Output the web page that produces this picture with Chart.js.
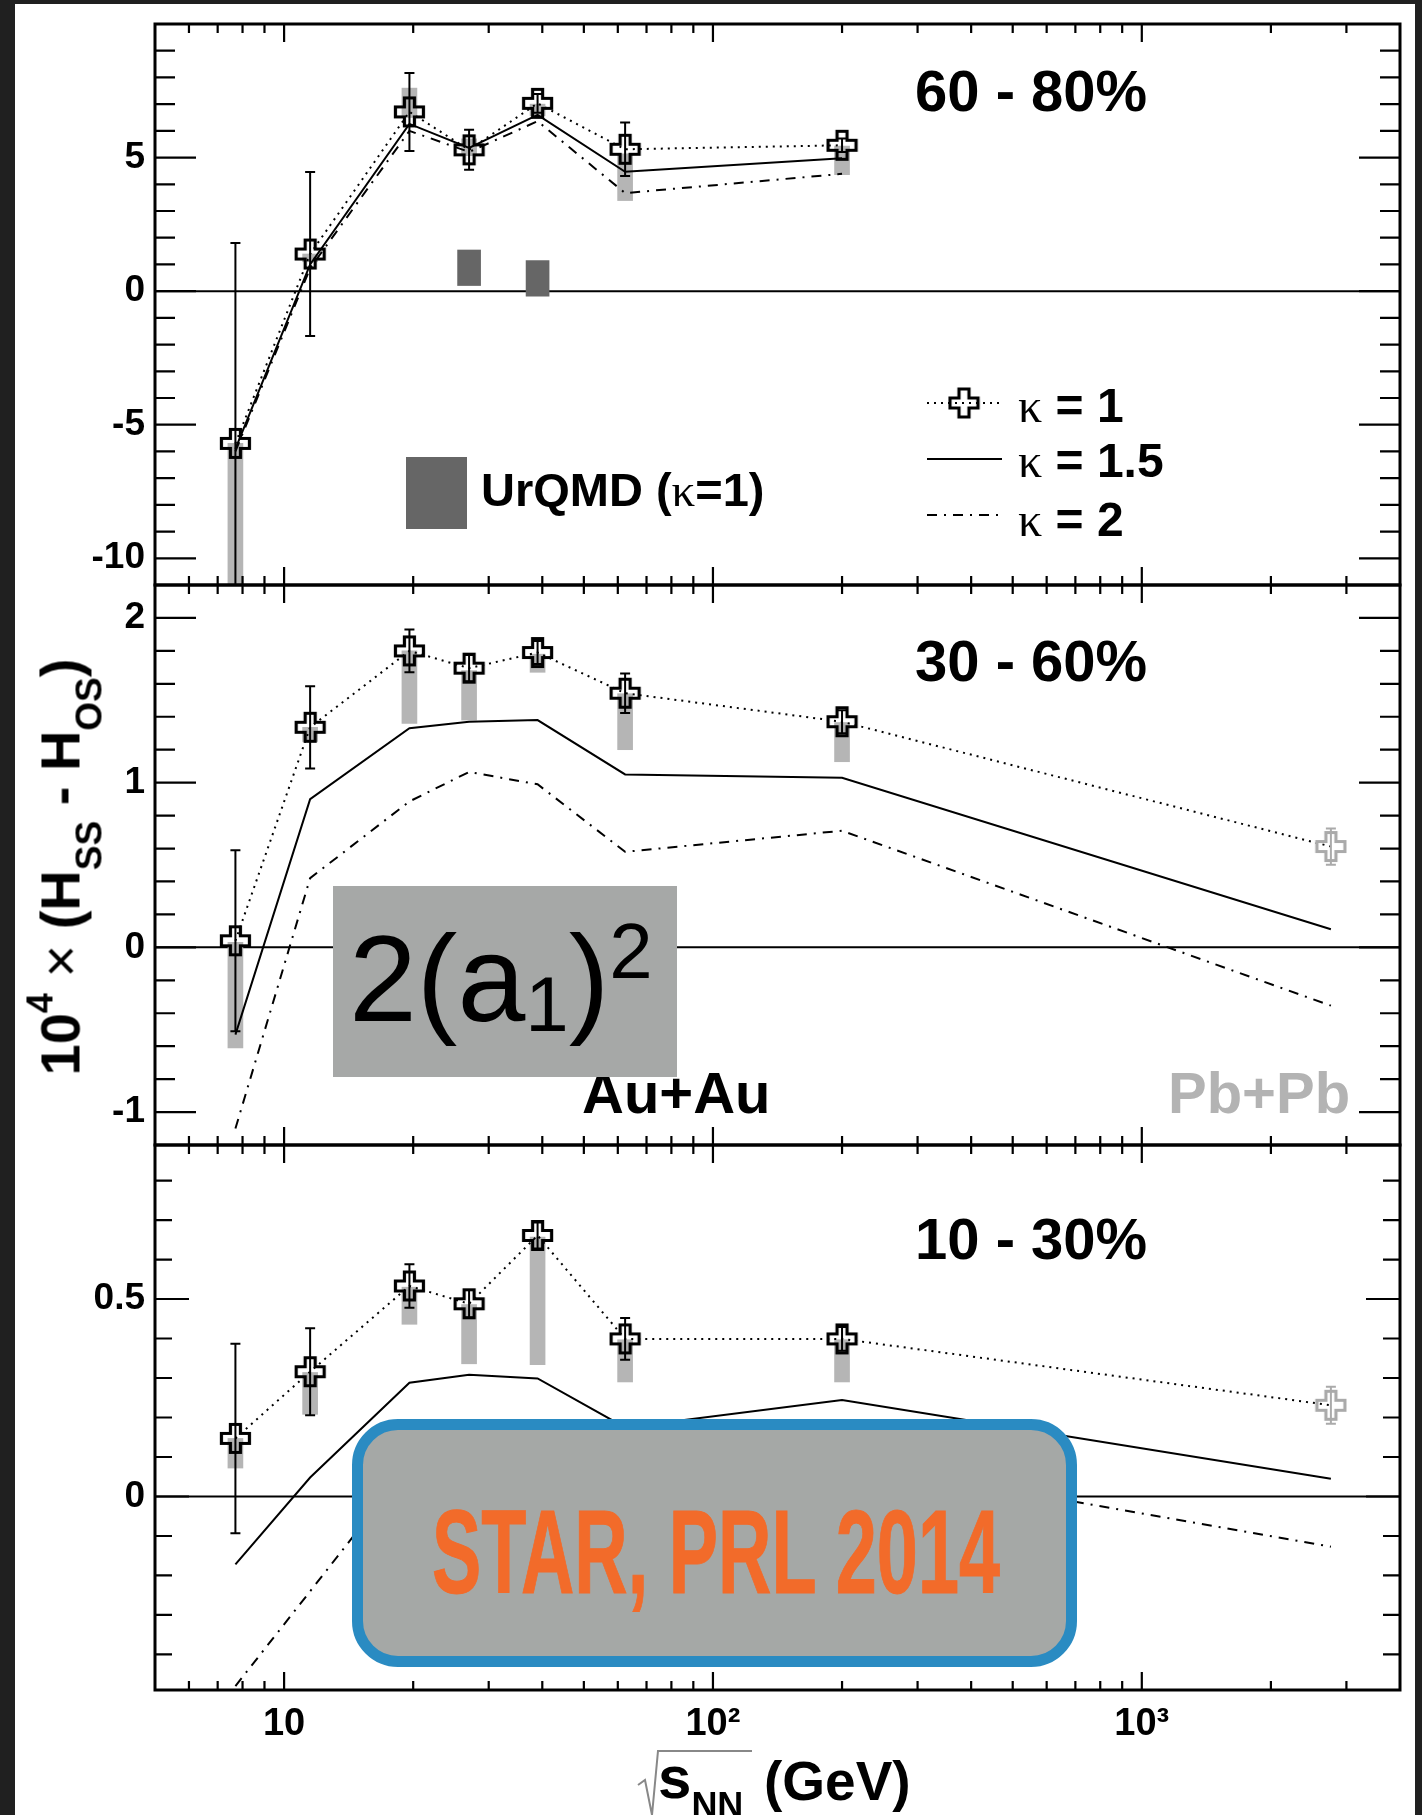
<!DOCTYPE html>
<html>
<head>
<meta charset="utf-8">
<title>H_SS - H_OS vs beam energy</title>
<script src="https://cdn.jsdelivr.net/npm/chart.js@4.4.1/dist/chart.umd.min.js"></script>
<style>
  html, body { margin: 0; padding: 0; }
  body { position: relative; width: 1422px; height: 1815px; overflow: hidden; background: #202020;
         font-family: "Liberation Sans", Arial, sans-serif; }
  #sheet { position: absolute; left: 15px; top: 4px; width: 1400px; height: 1811px; background: #fff; }
  canvas { position: absolute; left: 0; }
  .t { position: absolute; white-space: nowrap; line-height: 1; font-weight: bold; color: #000; }
  .k { font-family: "Liberation Serif", "DejaVu Serif", serif; font-weight: normal; }
  .ysub { font-size: 37px; position: relative; top: 22px; }
  #boxA1 { position: absolute; left: 333px; top: 886px; width: 344px; height: 191px; background: #a6a8a7; }
  #boxA1 .t { font-weight: normal; font-size: 122px; left: 16px; top: 32px; }
  #starBox { position: absolute; left: 352px; top: 1419px; width: 725px; height: 248px; box-sizing: border-box;
             border: 11px solid #2a8bc2; border-radius: 46px; background: #a5a8a6; }
  #starText { position: absolute; left: 432px; top: 1493px; font-family: "Liberation Sans Narrow", "Liberation Sans", sans-serif;
              font-weight: bold; font-size: 118px; line-height: 1; color: #f26b2a; white-space: nowrap;
              -webkit-text-stroke: 1px #f26b2a; transform-origin: left top; }
</style>
</head>
<body>
<div id="sheet"></div>

<canvas id="c6080" width="1422" height="641" style="top:-16px"></canvas>
<canvas id="c3060" width="1422" height="640" style="top:545px"></canvas>
<canvas id="c1030" width="1422" height="710" style="top:1105px"></canvas>
<canvas id="legendSamples" width="100" height="150" style="left:915px; top:385px"></canvas>

<!-- panel labels -->
<div class="t" style="left:915px; top:62px; font-size:58px">60 - 80%</div>
<div class="t" style="left:915px; top:632px; font-size:58px">30 - 60%</div>
<div class="t" style="left:915px; top:1210px; font-size:58px">10 - 30%</div>

<!-- legend -->
<div style="position:absolute; left:406px; top:457px; width:61px; height:72px; background:#666"></div>
<div class="t" style="left:481px; top:466px; font-size:47px">UrQMD (<span class="k">κ</span>=1)</div>
<div class="t" style="left:1018px; top:382px; font-size:48px"><span class="k">κ</span> = 1</div>
<div class="t" style="left:1018px; top:437px; font-size:48px"><span class="k">κ</span> = 1.5</div>
<div class="t" style="left:1018px; top:496px; font-size:48px"><span class="k">κ</span> = 2</div>

<div class="t" style="left:582px; top:1064px; font-size:58px">Au+Au</div>
<div class="t" style="left:1168px; top:1064px; font-size:58px; color:#b3b3b3">Pb+Pb</div>

<!-- axis titles -->
<div id="yTitle" class="t" style="font-size:56px">10<span style="font-size:36px; position:relative; top:-27px">4</span> <span style="font-weight:normal">×</span> (H<span class="ysub">SS</span> - H<span class="ysub">OS</span>)</div>
<svg style="position:absolute; left:630px; top:1740px" width="130" height="75">
  <polyline points="8,45 15,40 22,75 28,11 122,11" fill="none" stroke="#888" stroke-width="2"/>
</svg>
<div class="t" style="left:658px; top:1748px; font-size:60px">s<span style="font-size:36px; position:relative; top:20px">NN</span></div>
<div class="t" style="left:764px; top:1754px; font-size:55px">(GeV)</div>

<!-- slide overlays -->
<div id="boxA1"><div class="t">2(a<span style="font-size:78px; position:relative; top:10px">1</span>)<span style="font-size:78px; position:relative; top:-43px">2</span></div></div>
<div id="starBox"></div>
<div id="starText">STAR, PRL 2014</div>

<script>
Chart.defaults.font.family = "'Liberation Sans', Arial, sans-serif";
Chart.defaults.color = '#000';

// beam energies sqrt(s_NN) in GeV
const energies = [7.7, 11.5, 19.6, 27, 39, 62.4, 200, 2760];
const systems = ['Au+Au', 'Au+Au', 'Au+Au', 'Au+Au', 'Au+Au', 'Au+Au', 'Au+Au', 'Pb+Pb'];

// 60 - 80 %
const kappa1_6080 = [-5.7, 1.39, 6.71, 5.29, 7.03, 5.31, 5.46];
const stat_6080 = [7.5, 3.07, 1.46, 0.75, 0.35, 1.0, 0.25];
const systLow_6080 = [-12, 1.1, 6.5, 5.07, 6.57, 3.39, 4.36];
const systHigh_6080 = [-5.7, 1.39, 7.6, 5.7, 7.0, 5.14, 5.43];
const kappa15_6080 = [-5.9, 1.0, 6.26, 5.36, 6.6, 4.47, 4.97];
const kappa2_6080 = [-6.0, 0.86, 6.0, 5.21, 6.36, 3.67, 4.39];
const urqmdEnergies = [27, 39];
const urqmdLow_6080 = [0.21, -0.19];
const urqmdHigh_6080 = [1.54, 1.14];

// 30 - 60 %
const kappa1_3060 = [0.04, 1.336, 1.80, 1.695, 1.79, 1.543, 1.37, 0.612];
const stat_3060 = [0.55, 0.25, 0.13, 0.08, 0.07, 0.12, 0.07, 0.11];
const systLow_3060 = [-0.61, 1.25, 1.36, 1.38, 1.67, 1.20, 1.127, null];
const systHigh_3060 = [0.03, 1.336, 1.80, 1.68, 1.78, 1.54, 1.365, null];
const kappa15_3060 = [-0.53, 0.90, 1.33, 1.37, 1.38, 1.05, 1.03, 0.11];
const kappa2_3060 = [-1.10, 0.42, 0.886, 1.065, 0.99, 0.58, 0.708, -0.354];

// 10 - 30 %
const kappa1_1030 = [0.147, 0.316, 0.533, 0.488, 0.661, 0.399, 0.399, 0.231];
const stat_1030 = [0.24, 0.11, 0.055, 0.035, 0.033, 0.053, 0.03, 0.047];
const systLow_1030 = [0.072, 0.208, 0.436, 0.336, 0.334, 0.29, 0.29, null];
const systHigh_1030 = [0.147, 0.314, 0.53, 0.486, 0.657, 0.397, 0.397, null];
const kappa15_1030 = [-0.172, 0.048, 0.288, 0.308, 0.299, 0.175, 0.244, 0.045];
const kappa2_1030 = [-0.48, -0.24, 0.08, 0.11, 0.10, 0.0, 0.09, -0.127];

// axes
const xMin = 5, xMax = 4000;
const xTickValues = [10, 100, 1000];
const xTickLabels = ['10', '10²', '10³'];

const dotted = [2, 5];
const dashDot = [10, 7, 2, 7];

// open cross marker (ROOT style 28)
function crossMarker(color) {
    const c = document.createElement('canvas');
    c.width = 33; c.height = 33;
    const g = c.getContext('2d');
    const m = 16.5, h = 14, a = 5;
    g.beginPath();
    g.moveTo(m - a, m - h); g.lineTo(m + a, m - h); g.lineTo(m + a, m - a);
    g.lineTo(m + h, m - a); g.lineTo(m + h, m + a); g.lineTo(m + a, m + a);
    g.lineTo(m + a, m + h); g.lineTo(m - a, m + h); g.lineTo(m - a, m + a);
    g.lineTo(m - h, m + a); g.lineTo(m - h, m - a); g.lineTo(m - a, m - a);
    g.closePath();
    g.lineWidth = 3.2;
    g.strokeStyle = color;
    g.stroke();
    return c;
}
const blackCross = crossMarker('#000');
const grayCross = crossMarker('#aaa');

const panels = {};

// ticks inside the frame, frame, zero line and error bars
const rootFrame = {
    id: 'rootFrame',
    beforeDatasetsDraw(chart) {
        const { ctx, chartArea: a, scales: { y } } = chart;
        const y0 = y.getPixelForValue(0);
        ctx.save();
        ctx.strokeStyle = '#000';
        ctx.lineWidth = 2;
        ctx.beginPath();
        ctx.moveTo(a.left, y0);
        ctx.lineTo(a.right, y0);
        ctx.stroke();
        ctx.restore();
    },
    afterDatasetsDraw(chart) {
        const p = panels[chart.canvas.id];
        const { ctx, chartArea: a, scales: { x, y } } = chart;
        ctx.save();
        ctx.beginPath();
        ctx.rect(a.left, a.top, a.width, a.height);
        ctx.clip();
        ctx.lineWidth = 2;
        for (let i = 0; i < p.kappa1.length; i++) {
            const px = x.getPixelForValue(energies[i]);
            const top = y.getPixelForValue(p.kappa1[i] + p.stat[i]);
            const bot = y.getPixelForValue(p.kappa1[i] - p.stat[i]);
            ctx.strokeStyle = systems[i] == 'Pb+Pb' ? '#aaa' : '#000';
            ctx.beginPath();
            ctx.moveTo(px, top); ctx.lineTo(px, bot);
            ctx.moveTo(px - 5, top); ctx.lineTo(px + 5, top);
            ctx.moveTo(px - 5, bot); ctx.lineTo(px + 5, bot);
            ctx.stroke();
        }
        ctx.restore();
    },
    afterDraw(chart) {
        const p = panels[chart.canvas.id];
        const { ctx, chartArea: a, scales: { x, y } } = chart;
        ctx.save();
        ctx.strokeStyle = '#000';
        ctx.lineWidth = 2.2;
        ctx.beginPath();
        // x ticks: decades major, the rest minor
        for (let d = 1; d <= 1000; d *= 10) {
            for (let m = 1; m <= 9; m++) {
                const v = m * d;
                if (v <= xMin || v >= xMax) continue;
                const px = x.getPixelForValue(v);
                const len = m == 1 ? 18 : 9;
                ctx.moveTo(px, a.top); ctx.lineTo(px, a.top + len);
                ctx.moveTo(px, a.bottom); ctx.lineTo(px, a.bottom - len);
            }
        }
        // y ticks
        const k0 = Math.ceil(p.yMin / p.yMinor - 1e-6);
        const k1 = Math.floor(p.yMax / p.yMinor + 1e-6);
        for (let k = k0; k <= k1; k++) {
            const v = k * p.yMinor;
            const r = v / p.yMajor;
            const major = Math.abs(r - Math.round(r)) < 1e-6;
            const len = major ? p.tickLen[0] : p.tickLen[1];
            const py = y.getPixelForValue(v);
            ctx.moveTo(a.left, py); ctx.lineTo(a.left + len, py);
            ctx.moveTo(a.right, py); ctx.lineTo(a.right - len, py);
        }
        ctx.stroke();
        ctx.lineWidth = 3;
        ctx.strokeRect(a.left, a.top, a.width, a.height);
        ctx.restore();
    }
};

function makePanel(id, p) {
    panels[id] = p;
    const n = p.kappa1.length;
    const xs = energies.slice(0, n);
    const pts = arr => xs.map((e, i) => ({ x: e, y: arr[i] }));

    const datasets = [];
    const syst = [];
    for (let i = 0; i < n; i++) {
        if (p.systLow[i] != null) syst.push({ x: xs[i], y: [p.systLow[i], p.systHigh[i]] });
    }
    datasets.push({
        type: 'bar', label: 'syst', data: syst,
        backgroundColor: '#b5b5b5', borderWidth: 0, barThickness: 15, grouped: false, order: 3
    });
    if (p.urqmdLow) {
        datasets.push({
            type: 'bar', label: 'UrQMD (κ=1)',
            data: urqmdEnergies.map((e, i) => ({ x: e, y: [p.urqmdLow[i], p.urqmdHigh[i]] })),
            backgroundColor: '#666', borderWidth: 0, barThickness: 23, grouped: false, order: 3
        });
    }
    datasets.push({
        label: 'κ = 2', data: pts(p.kappa2), borderColor: '#000', borderWidth: 2,
        borderDash: dashDot, pointRadius: 0, order: 2
    });
    datasets.push({
        label: 'κ = 1.5', data: pts(p.kappa15), borderColor: '#000', borderWidth: 2,
        pointRadius: 0, order: 2
    });
    datasets.push({
        label: 'κ = 1', data: pts(p.kappa1), borderColor: '#000', borderWidth: 2,
        borderDash: dotted,
        pointStyle: xs.map((e, i) => systems[i] == 'Pb+Pb' ? grayCross : blackCross),
        pointRadius: 6, order: 1
    });

    new Chart(document.getElementById(id), {
        type: 'line',
        data: { datasets: datasets },
        options: {
            responsive: false,
            animation: false,
            devicePixelRatio: 1,
            layout: { padding: { left: 0, right: 22, top: 40, bottom: p.showX ? 0 : 40 } },
            plugins: { legend: { display: false }, tooltip: { enabled: false } },
            scales: {
                x: {
                    type: 'logarithmic', min: xMin, max: xMax, offset: false,
                    display: p.showX,
                    grid: { display: false, drawTicks: false },
                    border: { display: false },
                    afterBuildTicks: s => { s.ticks = xTickValues.map(v => ({ value: v })); },
                    afterFit: s => { if (p.showX) s.height = 125; },
                    ticks: {
                        autoSkip: false, maxRotation: 0, padding: 12, color: '#000',
                        font: { size: 38, weight: 'bold' },
                        callback: v => xTickLabels[xTickValues.indexOf(v)]
                    }
                },
                y: {
                    type: 'linear', min: p.yMin, max: p.yMax,
                    grid: { display: false, drawTicks: false },
                    border: { display: false },
                    afterBuildTicks: s => { s.ticks = p.yLabels.map(v => ({ value: v })); },
                    afterFit: s => { s.width = 155; },
                    ticks: {
                        padding: 10, color: '#000',
                        font: { size: 37, weight: 'bold' },
                        callback: v => String(v)
                    }
                }
            }
        },
        plugins: [rootFrame]
    });
}

makePanel('c6080', {
    kappa1: kappa1_6080, stat: stat_6080, systLow: systLow_6080, systHigh: systHigh_6080,
    kappa15: kappa15_6080, kappa2: kappa2_6080, urqmdLow: urqmdLow_6080, urqmdHigh: urqmdHigh_6080,
    yMin: -11, yMax: 10, yMajor: 5, yMinor: 1, yLabels: [-10, -5, 0, 5], tickLen: [41, 20], showX: false
});
makePanel('c3060', {
    kappa1: kappa1_3060, stat: stat_3060, systLow: systLow_3060, systHigh: systHigh_3060,
    kappa15: kappa15_3060, kappa2: kappa2_3060,
    yMin: -1.2, yMax: 2.2, yMajor: 1, yMinor: 0.2, yLabels: [-1, 0, 1, 2], tickLen: [41, 20], showX: false
});
makePanel('c1030', {
    kappa1: kappa1_1030, stat: stat_1030, systLow: systLow_1030, systHigh: systHigh_1030,
    kappa15: kappa15_1030, kappa2: kappa2_1030,
    yMin: -0.49, yMax: 0.89, yMajor: 0.5, yMinor: 0.1, yLabels: [0, 0.5], tickLen: [34, 17], showX: true
});

// legend line samples
(function () {
    const g = document.getElementById('legendSamples').getContext('2d');
    const rows = [[18, dotted], [74, []], [130, dashDot]];
    g.strokeStyle = '#000';
    g.lineWidth = 2;
    rows.forEach(r => {
        g.setLineDash(r[1]);
        g.beginPath();
        g.moveTo(12, r[0]);
        g.lineTo(87, r[0]);
        g.stroke();
    });
    g.setLineDash([]);
    g.drawImage(blackCross, 49 - blackCross.width / 2, 18 - blackCross.height / 2);
})();

// rotated y title
(function () {
    const yt = document.getElementById('yTitle');
    const w = yt.offsetWidth, h = yt.offsetHeight;
    yt.style.left = (60 - w / 2) + 'px';
    yt.style.top = (867 - h / 2) + 'px';
    yt.style.transform = 'rotate(-90deg)';
})();

// condensed orange label
(function () {
    const st = document.getElementById('starText');
    const w = st.offsetWidth;
    st.style.transform = 'scaleX(' + (568 / w) + ')';
})();
</script>
</body>
</html>
